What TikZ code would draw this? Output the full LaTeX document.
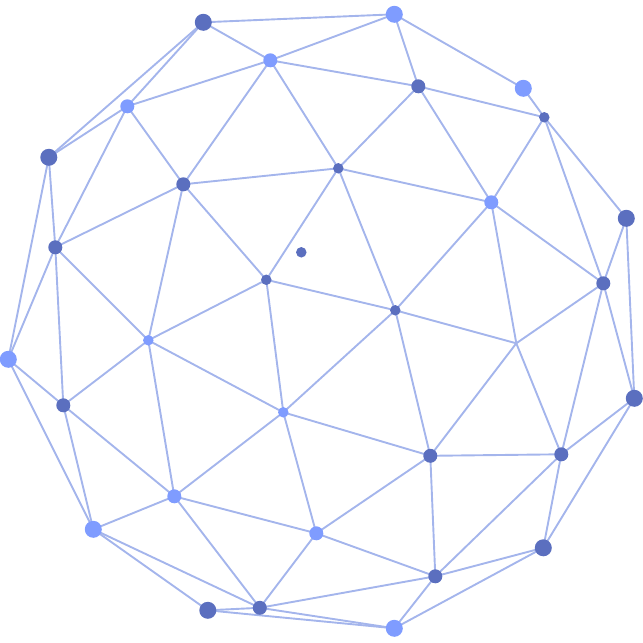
\documentclass[tikz,border=0pt]{standalone}
\usetikzlibrary{backgrounds}
\definecolor{edgecol}{HTML}{A4B5EC}
\definecolor{darkdot}{HTML}{5B6FBF}
\definecolor{lightdot}{HTML}{7F9CFF}
\tikzset{
  dot/.style={circle,inner sep=0pt,outer sep=0pt,draw=none},
  dk/.style={dot,fill=darkdot,minimum size=#1pt},
  lt/.style={dot,fill=lightdot,minimum size=#1pt},
  edge/.style={draw=edgecol,line width=1.9pt,line cap=round}
}
\begin{document}
\begin{tikzpicture}[x=1pt,y=-1pt]
\useasboundingbox (0,0) rectangle (643,643);
\node[dk=17] (a1) at (203.3,22.3) {};
\node[lt=17] (a2) at (394.3,14.3) {};
\node[lt=17] (a3) at (523.3,88.3) {};
\node[lt=14] (a4) at (270.3,60.3) {};
\node[dk=14] (a5) at (418.3,86.3) {};
\node[dk=10.5] (a6) at (544.3,117.3) {};
\node[lt=14] (a7) at (127.3,106.3) {};
\node[dk=17] (a8) at (48.8,157.3) {};
\node[dk=14] (a9) at (183.3,184.3) {};
\node[dk=10.5] (a10) at (338.3,168.3) {};
\node[lt=14] (a11) at (491.3,202.3) {};
\node[dk=17] (a12) at (626.3,218.3) {};
\node[dk=14] (a13) at (55.3,247.3) {};
\node[dk=10.5] (a14) at (301.3,252.3) {};
\node[dk=10.5] (a15) at (266.3,279.8) {};
\node[dk=14] (a16) at (603.3,283.3) {};
\node[dk=10.5] (a17) at (395.3,310.3) {};
\node[lt=10.5] (a18) at (148.3,340.3) {};
\coordinate (a19) at (516.3,343.3);
\node[lt=17] (a20) at (8.3,359.3) {};
\node[dk=17] (a21) at (634.3,398.3) {};
\node[dk=14] (a22) at (63.3,405.3) {};
\node[lt=10.5] (a23) at (283.3,412.3) {};
\node[dk=14] (a24) at (430.3,455.8) {};
\node[dk=14] (a25) at (561.3,454.3) {};
\node[lt=14] (a26) at (174.3,496.3) {};
\node[lt=17] (a27) at (93.3,529.3) {};
\node[lt=14] (a28) at (316.3,533.3) {};
\node[dk=17] (a29) at (543.3,547.8) {};
\node[dk=14] (a30) at (435.3,576.3) {};
\node[dk=14] (a31) at (259.8,607.8) {};
\node[dk=17] (a32) at (207.8,610.3) {};
\node[lt=17] (a33) at (394.3,628.3) {};
\begin{scope}[on background layer]
\foreach \p/\q in {1/2,1/4,1/7,1/8,2/4,2/5,2/3,3/6,4/5,4/7,4/9,4/10,5/6,5/10,5/11,6/11,6/12,6/16,
  7/8,7/9,7/13,8/13,8/20,9/10,9/13,9/15,9/18,10/11,10/15,10/17,11/16,11/17,11/19,12/16,12/21,
  13/18,13/20,13/22,15/17,15/18,15/23,16/19,16/21,16/25,17/19,17/23,17/24,18/22,18/23,18/26,
  19/24,19/25,20/22,20/27,21/25,21/29,22/26,22/27,23/24,23/26,23/28,24/25,24/28,24/30,25/29,25/30,
  26/27,26/28,26/31,27/31,27/32,28/30,28/31,29/30,29/33,30/31,30/33,31/32,31/33,32/33}
  {\draw[edge] (a\p.center) -- (a\q.center);}
\end{scope}
\end{tikzpicture}
\end{document}
